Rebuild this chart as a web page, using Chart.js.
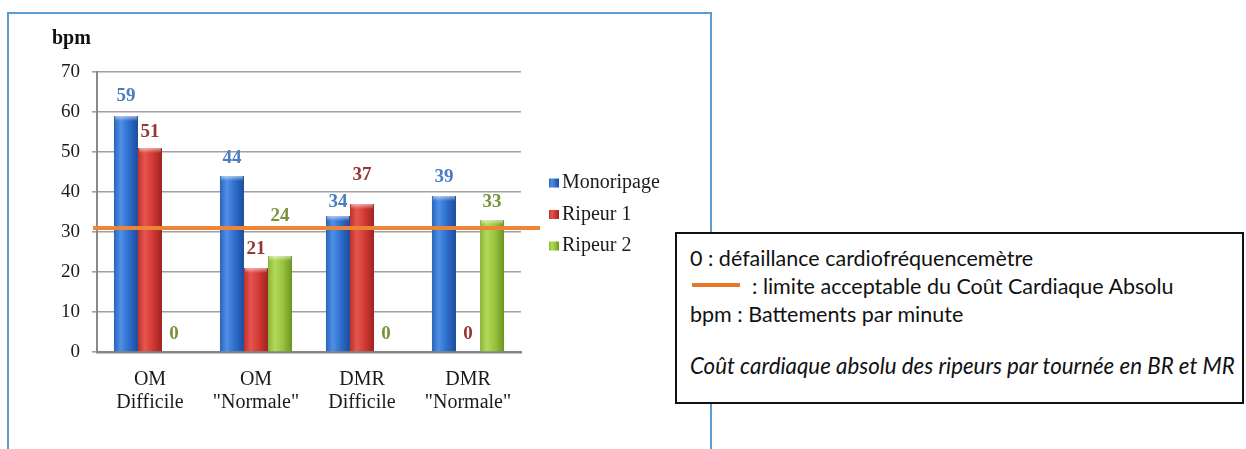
<!DOCTYPE html>
<html>
<head>
<meta charset="utf-8">
<script src="https://cdn.jsdelivr.net/npm/chart.js@4/dist/chart.umd.min.js"></script>
<style>
  html, body { margin: 0; padding: 0; background: #fff; width: 1246px; height: 449px; overflow: hidden; }
  #frame { position: absolute; left: 7px; top: 12px; width: 705px; height: 480px; border: 2px solid #5B9BD5; box-sizing: border-box; }
  #wrap { position: absolute; left: 0; top: 0; width: 1246px; height: 449px; }
  #note { position: absolute; left: 675px; top: 232px; width: 569px; height: 172px; border: 2px solid #111; box-sizing: border-box; background: #fff; font-family: Lato, "Liberation Sans", sans-serif; font-size: 21.5px; color: #111; }
  #note .ln { position: absolute; left: 13px; line-height: 28px; white-space: nowrap; }
  #note .dash { position: absolute; left: 15px; top: 49px; width: 48px; height: 4px; background: #E8762A; }
</style>
</head>
<body>
<div id="frame"></div>
<div id="wrap"><canvas id="c" width="1246" height="449"></canvas></div>
<div id="note">
  <div class="ln" style="top:10px">0 : défaillance cardiofréquencemètre</div>
  <div class="dash"></div>
  <div class="ln" style="top:38px; left:75px">: limite acceptable du Coût Cardiaque Absolu</div>
  <div class="ln" style="top:66px">bpm : Battements par minute</div>
  <div class="ln" style="top:118px; font-style:italic; font-size:22.3px">Coût cardiaque absolu des ripeurs par tournée en BR et MR</div>
</div>
<script>
// Rounds (categories) and heart-rate cost per crew type, in bpm
const categories = [['OM', 'Difficile'], ['OM', '"Normale"'], ['DMR', 'Difficile'], ['DMR', '"Normale"']];
const monoripage = [59, 44, 34, 39];
const ripeur1 = [51, 21, 37, 0];
const ripeur2 = [0, 24, 0, 33];
const yTicks = [0, 10, 20, 30, 40, 50, 60, 70];
const limiteAcceptable = 31;

const SERIF = '"Liberation Serif", "Times New Roman", serif';

// Shading for the cylinder-like bars: [edge, highlight, body, shadow]
const barShades = [
  ['#2B63B9', '#4F90E6', '#2F6FCE', '#1C4C9C'],
  ['#C0302C', '#E5564F', '#D43A36', '#9E2420'],
  ['#8AB536', '#B3D95C', '#9AC53E', '#6C9423']
];
const labelColors = ['#4A7EC2', '#943634', '#77933C'];
// vertical distance (px) between bar top and its value label
const labelLift = [
  [20, 18, 14, 19],
  [16, 19, 29, 18],
  [18, 40, 18, 18]
];

function shadeGradient(ctx, x0, x1, shades) {
  const g = ctx.createLinearGradient(x0, 0, x1, 0);
  g.addColorStop(0, shades[0]);
  g.addColorStop(0.28, shades[1]);
  g.addColorStop(0.6, shades[2]);
  g.addColorStop(1, shades[3]);
  return g;
}

const barShading = {
  id: 'barShading',
  beforeDatasetsDraw(chart) {
    const ctx = chart.ctx;
    chart.data.datasets.forEach((ds, di) => {
      chart.getDatasetMeta(di).data.forEach(el => {
        const { x, width } = el.getProps(['x', 'width'], true);
        el.options = Object.assign({}, el.options, {
          backgroundColor: shadeGradient(ctx, x - width / 2, x + width / 2, barShades[di])
        });
      });
    });
  },
  afterDatasetsDraw(chart) {
    const ctx = chart.ctx;
    ctx.save();
    chart.data.datasets.forEach((ds, di) => {
      chart.getDatasetMeta(di).data.forEach(el => {
        const { x, y, width, base } = el.getProps(['x', 'y', 'width', 'base'], true);
        if (base - y < 5) return;
        // light cap on top of each bar
        const cap = ctx.createLinearGradient(0, y, 0, y + 5);
        cap.addColorStop(0, 'rgba(255,255,255,0.55)');
        cap.addColorStop(1, 'rgba(255,255,255,0)');
        ctx.fillStyle = cap;
        ctx.fillRect(x - width / 2 + 1, y, width - 2, 5);
      });
    });
    // acceptable limit line
    const yPix = chart.scales.y.getPixelForValue(limiteAcceptable);
    ctx.strokeStyle = '#EE8436';
    ctx.lineWidth = 4;
    ctx.beginPath();
    ctx.moveTo(chart.chartArea.left - 4, yPix);
    ctx.lineTo(chart.chartArea.right + 19, yPix);
    ctx.stroke();
    ctx.restore();
  }
};

const valueLabels = {
  id: 'valueLabels',
  afterDatasetsDraw(chart) {
    const ctx = chart.ctx;
    ctx.save();
    ctx.font = 'bold 19px ' + SERIF;
    ctx.textAlign = 'center';
    ctx.textBaseline = 'middle';
    chart.data.datasets.forEach((ds, di) => {
      ctx.fillStyle = labelColors[di];
      chart.getDatasetMeta(di).data.forEach((el, i) => {
        const { x, y } = el.getProps(['x', 'y'], true);
        ctx.fillText(String(ds.data[i]), x, y - labelLift[di][i]);
      });
    });
    ctx.restore();
  }
};

const sideLegend = {
  id: 'sideLegend',
  afterDraw(chart) {
    const ctx = chart.ctx;
    ctx.save();
    ctx.font = '20px ' + SERIF;
    ctx.textBaseline = 'middle';
    chart.data.datasets.forEach((ds, di) => {
      const cy = 183 + di * 31.5;
      ctx.fillStyle = shadeGradient(ctx, 549, 559, barShades[di]);
      ctx.fillRect(549, cy - 4.5, 10, 9);
      ctx.fillStyle = '#1a1a1a';
      ctx.fillText(ds.label, 562, cy);
    });
    // axis unit
    ctx.font = 'bold 20px ' + SERIF;
    ctx.fillStyle = '#111';
    ctx.fillText('bpm', 52, 39);
    ctx.restore();
  }
};

new Chart(document.getElementById('c'), {
  type: 'bar',
  data: {
    labels: categories,
    datasets: [
      { label: 'Monoripage', data: monoripage, backgroundColor: barShades[0][2] },
      { label: 'Ripeur 1', data: ripeur1, backgroundColor: barShades[1][2] },
      { label: 'Ripeur 2', data: ripeur2, backgroundColor: barShades[2][2] }
    ]
  },
  options: {
    responsive: false,
    animation: false,
    layout: { padding: { left: 0, top: 72, right: 725, bottom: 0 } },
    datasets: { bar: { categoryPercentage: 0.68, barPercentage: 1, borderWidth: 0 } },
    plugins: { legend: { display: false }, tooltip: { enabled: false } },
    scales: {
      x: {
        grid: { display: false },
        border: { display: true, color: '#858585', width: 2.5 },
        ticks: { color: '#1a1a1a', font: { family: SERIF, size: 20, lineHeight: 1.15 }, padding: 8, maxRotation: 0 },
        afterFit(scale) { scale.height = 97; }
      },
      y: {
        min: 0,
        max: 70,
        afterBuildTicks(scale) { scale.ticks = yTicks.map(v => ({ value: v })); },
        grid: { color: '#a0a0a0', lineWidth: 1.6, tickLength: 5, tickColor: '#a0a0a0' },
        border: { display: true, color: '#8a8a8a', width: 2 },
        ticks: { color: '#1a1a1a', font: { family: SERIF, size: 19 }, padding: 12 },
        afterFit(scale) { scale.width = 97; }
      }
    }
  },
  plugins: [barShading, valueLabels, sideLegend]
});
</script>
</body>
</html>
